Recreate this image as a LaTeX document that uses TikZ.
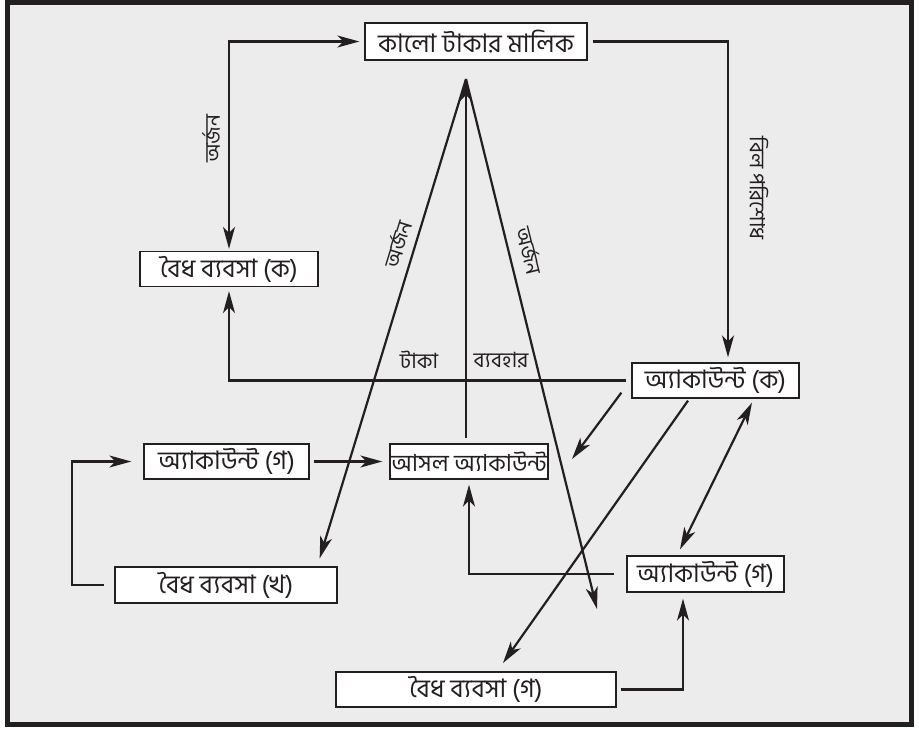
\documentclass[tikz,border=0pt]{standalone}
\usepackage{fontspec}
\setmainfont[Script=Bengali]{Hind Siliguri}
\usepackage{tikz}
\usetikzlibrary{arrows.meta,positioning,calc}
\definecolor{inkdark}{RGB}{35,31,32}
\definecolor{pagegray}{RGB}{236,236,236}

\begin{document}
\begin{tikzpicture}[x=1pt,y=-1pt,
      >={Stealth[length=22pt,width=12pt,inset=6pt]},
      b/.style={draw=inkdark,fill=white,line width=1.3pt,inner sep=0pt,
                minimum height=35pt,font=\fontsize{25.5}{28}\selectfont,text=inkdark},
      lbl/.style={inner sep=0pt,font=\fontsize{21}{23}\selectfont,text=inkdark},
      con/.style={draw=inkdark,line width=2.2pt}]
      % frame
      \fill[white] (0,0) rectangle (919,728);
      \draw[line width=5pt,draw=inkdark,fill=pagegray] (7.5,1.5) rectangle (911.5,723);
      \useasboundingbox (0,0) rectangle (919,728);

      % boxes
      \node[b,minimum width=222pt,minimum height=37pt] (malik) at (476,40.5) {কালো টাকার মালিক};
      \node[b,minimum width=178pt] (bbk) at (229,268) {বৈধ ব্যবসা (ক)};
      \node[b,minimum width=167pt] (acck) at (715.5,379.5) {অ্যাকাউন্ট (ক)};
      \node[b,minimum width=165pt] (accg1) at (226.5,460.5) {অ্যাকাউন্ট (গ)};
      \node[b,minimum width=158pt,font=\fontsize{23.5}{26}\selectfont] (asol) at (469,460.5) {আসল অ্যাকাউন্ট};
      \node[b,minimum width=222pt,minimum height=36pt] (bbkh) at (226,584) {বৈধ ব্যবসা (খ)};
      \node[b,minimum width=157pt,minimum height=36pt] (accg2) at (705.5,573) {অ্যাকাউন্ট (গ)};
      \node[b,minimum width=280pt] (bbkg) at (476,688.5) {বৈধ ব্যবসা (গ)};

      % free ends
      \coordinate (apex) at (466,78);
      \coordinate (tipr) at (597,608);
      \coordinate (tipa) at (572,458);
      \coordinate (tipg) at (503,662);

      % labels
      \node[lbl,rotate=90] (arj1) at (211,138) {অর্জন};
      \node[lbl,rotate=-90] (bill) at (759,187) {বিল পরিশোধ};
      \node[lbl,rotate=73] (arj2) at (397,243) {অর্জন};
      \node[lbl,rotate=-76] (arj3) at (530,250) {অর্জন};
      \node[lbl] (taka) at (419,359) {টাকা};
      \node[lbl] (use) at (501,359) {ব্যবহার};

      % connectors
      \draw[con,<->,shorten <=2pt,shorten >=5pt] (bbk.north) |- (malik.west);
      \draw[con,->,shorten <=5pt,shorten >=5pt] (malik.east) -| ([xshift=12.5pt]acck.north);
      \draw[con,->,shorten <=5pt,shorten >=4pt] (acck.west) -| (bbk.south);
      \draw[con,->,shorten <=5pt] (asol.north -| apex) -- (apex);
      \draw[con,->] (apex) -- ([xshift=-18pt,yshift=8pt]bbkh.north east);
      \draw[con,->] (apex) -- (tipr);
      \draw[con,->] ([xshift=-10pt,yshift=6pt]acck.south west) -- (tipa);
      \draw[con,->] ([xshift=-27.5pt,yshift=-2pt]acck.south) -- (tipg);
      \draw[con,<->] ([xshift=36.5pt,yshift=-4pt]acck.south) -- ([xshift=-25.5pt,yshift=6pt]accg2.north);
      \draw[con,->,shorten <=4pt,shorten >=7pt] (accg1.east) -- (asol.west);
      \draw[con,->,shorten <=10pt,shorten >=12pt] (bbkh.west) -- ++(-42,0) |- (accg1.west);
      \draw[con,->,shorten <=12pt,shorten >=5pt] (accg2.west) -| (asol.south);
      \draw[con,->,shorten <=4pt,shorten >=6pt] (bbkg.east) -| ([xshift=-22.5pt]accg2.south);
    \end{tikzpicture}
\end{document}
